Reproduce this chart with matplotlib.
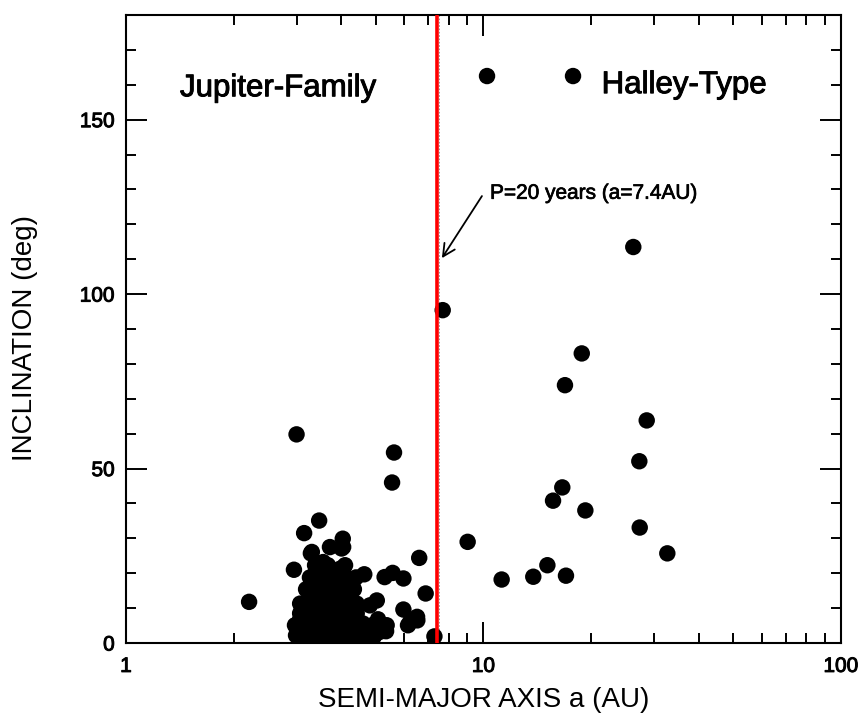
import matplotlib
matplotlib.use("Agg")
import matplotlib.pyplot as plt
import matplotlib.patheffects as pe
from matplotlib.ticker import LogLocator, MultipleLocator, NullFormatter, FuncFormatter

plt.rcParams['font.family'] = ['Liberation Sans', 'DejaVu Sans']

# Jupiter-family comets (a < 7.4 AU)
a_jf = [2.21, 3.00, 5.62, 5.55, 6.61, 6.89, 4.64, 5.29, 5.57, 5.97, 5.97, 6.53, 6.23,
        6.52, 6.15, 7.29,
        3.47, 3.15, 4.04, 4.05, 3.29, 2.95, 3.72, 4.01, 3.31, 3.56, 3.97,
        3.07, 2.97, 2.99, 4.42, 4.81, 5.03, 4.60, 5.13, 5.36, 3.34,
        3.38, 3.67, 4.10,
        3.40, 3.67, 3.97,
        3.27, 3.53, 3.82, 4.12, 4.40,
        3.40, 3.67, 3.97, 4.29,
        3.19, 3.44, 3.72, 4.02, 4.34,
        3.31, 3.58, 3.87, 4.18,
        3.27, 3.53, 3.82, 4.12,
        3.15, 3.40, 3.67, 3.97, 4.29,
        3.07, 3.31, 3.58, 3.87, 4.18, 4.42,
        3.07, 3.31, 3.58, 3.87, 4.18, 5.07,
        3.19, 3.44, 3.72, 4.02, 4.34, 4.88,
        3.07, 3.31, 3.58, 3.87, 4.18, 4.51, 4.88, 5.34,
        3.11, 3.36, 3.63, 3.92, 4.23, 4.57, 4.94]
i_jf = [11.8, 59.8, 54.6, 46.0, 24.4, 14.2, 19.7, 18.9, 20.1, 18.5, 9.6, 6.5, 6.0,
        7.5, 5.1, 1.9,
        35.1, 31.5, 29.9, 27.5, 25.7, 21.0, 27.5, 27.1, 26.1, 23.2, 21.3,
        11.3, 5.1, 2.2, 11.3, 10.8, 12.2, 5.6, 3.2, 5.1, 4.1,
        22.3, 22.3, 22.3,
        20.6, 20.6, 20.6,
        18.8, 18.8, 18.8, 18.8, 18.8,
        17.1, 17.1, 17.1, 17.1,
        15.4, 15.4, 15.4, 15.4, 15.4,
        13.7, 13.7, 13.7, 13.7,
        11.9, 11.9, 11.9, 11.9,
        10.2, 10.2, 10.2, 10.2, 10.2,
        8.5, 8.5, 8.5, 8.5, 8.5, 8.5,
        6.8, 6.8, 6.8, 6.8, 6.8, 6.8,
        5.1, 5.1, 5.1, 5.1, 5.1, 5.1,
        3.4, 3.4, 3.4, 3.4, 3.4, 3.4, 3.4, 3.4,
        1.9, 1.9, 1.9, 1.9, 1.9, 1.9, 1.9]

# Halley-type comets (a > 7.4 AU)
a_ht = [10.23, 17.80, 7.69, 26.24, 18.83, 16.90, 28.61, 27.28, 16.61, 15.65,
        19.27, 27.35, 9.03, 32.67, 11.24, 13.78, 15.09, 17.01]
i_ht = [162.5, 162.5, 95.4, 113.5, 83.0, 73.9, 63.8, 52.1, 44.6, 40.8,
        38.0, 33.1, 29.0, 25.7, 18.2, 19.0, 22.3, 19.3]

a_split = 7.4
x_ticks = [1, 10, 100]
y_ticks = [0, 50, 100, 150]

heavy = [pe.withStroke(linewidth=0.7, foreground='black')]

fig = plt.figure(figsize=(8.61, 7.27), dpi=100)
ax = fig.add_axes([0.1463, 0.1155, 0.8305, 0.8639])

ax.scatter(a_jf, i_jf, s=140, color='black', edgecolors='none', zorder=3)
ax.scatter(a_ht, i_ht, s=140, color='black', edgecolors='none', zorder=3)
ax.axvline(7.52, color='0.55', lw=0.6, ls=(0, (2, 2)), zorder=2)
ax.axvline(a_split, color='#ff0000', lw=2.6, zorder=4)

ax.set_xscale('log')
ax.set_xlim(1, 100)
ax.set_ylim(0, 180)
ax.set_xticks(x_ticks)
ax.xaxis.set_major_formatter(FuncFormatter(lambda v, _: f'{v:g}'))
ax.xaxis.set_minor_locator(LogLocator(base=10, subs=range(2, 10)))
ax.xaxis.set_minor_formatter(NullFormatter())
ax.set_yticks(y_ticks)
ax.yaxis.set_minor_locator(MultipleLocator(10))

ax.tick_params(which='both', direction='in', top=True, right=True, width=1.4,
               labelsize=15, colors='black')
ax.tick_params(which='major', length=15)
ax.tick_params(which='minor', length=7.5)
ax.tick_params(axis='x', which='major', pad=10)
ax.tick_params(axis='y', which='major', pad=8)
for lab in ax.get_xticklabels() + ax.get_yticklabels():
    lab.set_path_effects(heavy)
for sp in ax.spines.values():
    sp.set_linewidth(1.5)

ax.text(1.416, 159.0, 'Jupiter-Family', fontsize=22.5, ha='left', va='center',
        path_effects=heavy)
ax.text(21.4, 159.9, 'Halley-Type', fontsize=22.5, ha='left', va='center',
        path_effects=heavy)

ax.annotate('', xy=(7.65, 110.3), xytext=(9.90, 128.1),
            arrowprops=dict(arrowstyle='->', lw=1.3, color='black',
                            mutation_scale=22, shrinkA=0, shrinkB=0))
ax.text(10.43, 128.9, 'P=20 years (a=7.4AU)', fontsize=15, ha='left', va='center',
        path_effects=[pe.withStroke(linewidth=0.5, foreground='black')])

ax.set_xlabel('SEMI-MAJOR AXIS a (AU)', fontsize=20)
ax.xaxis.set_label_coords(0.5, -0.091)
ax.xaxis.label.set_va('center')
ax.set_ylabel('INCLINATION (deg)', fontsize=20)
ax.yaxis.set_label_coords(-0.141, 0.486)
ax.yaxis.label.set_va('center')

fig.savefig('out.png', dpi=100)
